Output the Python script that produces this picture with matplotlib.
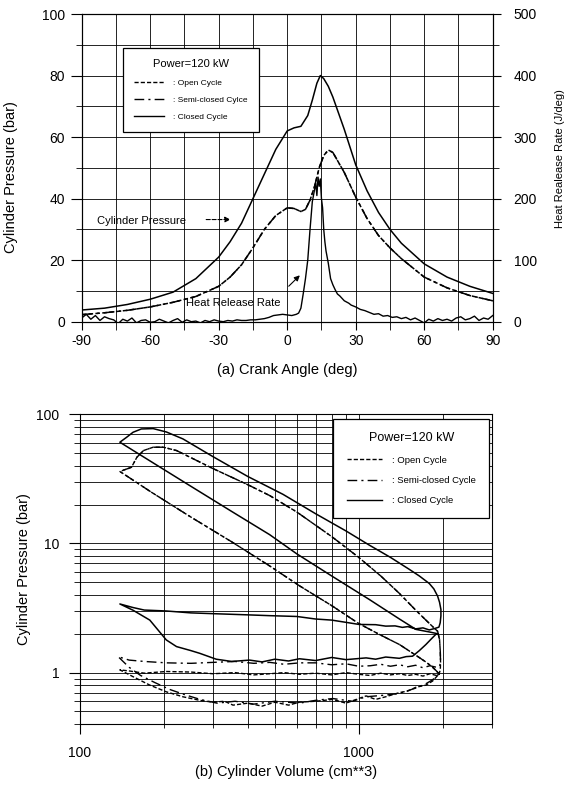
import numpy as np
import matplotlib
matplotlib.use("Agg")
import matplotlib.pyplot as plt
from matplotlib.ticker import MultipleLocator, NullFormatter
from matplotlib.lines import Line2D

plt.rcParams['font.family'] = ['Liberation Sans', 'DejaVu Sans']
plt.rcParams['axes.unicode_minus'] = False

# ---- (a) pressure / heat release vs crank angle ----
theta_closed = [-90, -80, -70, -60, -50, -40, -30, -25, -20, -15, -10, -5, 0, 3, 6, 9, 11, 13, 14.5,
                16, 18, 20, 25, 30, 35, 40, 45, 50, 60, 70, 80, 90]
p_closed = [3.8, 4.4, 5.6, 7.3, 9.6, 14, 21, 26, 32, 40, 48, 56, 62, 63, 63.5, 67, 72, 77.5, 80,
            79, 76.5, 73, 62.5, 51, 42.5, 35.5, 30, 25.5, 18.8, 14.5, 11.5, 9.2]

theta_open_semi = [-90, -80, -70, -60, -50, -40, -30, -25, -20, -15, -10, -5, 0, 3, 6, 8, 10, 12, 14,
                   16, 18, 20, 25, 30, 35, 40, 45, 50, 60, 70, 80, 90]
p_open_semi = [2.3, 2.9, 3.7, 4.8, 6.3, 8.2, 11.5, 14.5, 18.5, 24, 30, 34.5, 37, 36.8, 35.8, 36.5, 39.5, 44, 50,
               54, 55.8, 55, 48.5, 40.5, 33.5, 28, 24, 20.5, 14.5, 11, 8.5, 6.8]

theta_hrr = [-90, -88, -86, -84, -82, -80, -78, -76, -74, -72, -70, -68, -66, -64, -62, -60, -58, -56,
             -54, -52, -50, -48, -46, -44, -42, -40, -38, -36, -34, -32, -30, -28, -26, -24, -22, -20,
             -18, -16, -14, -12, -10, -8, -6, -4, -2, 0, 2, 4, 5, 6, 7, 8, 9, 10, 11, 12, 12.5, 13,
             13.5, 14, 14.5, 15, 15.5, 16, 16.5, 17, 18, 19, 20, 21, 22, 23, 24, 25, 26, 27, 28, 30,
             32, 34, 36, 38, 40, 42, 44, 46, 48, 50, 52, 54, 56, 58, 60, 62, 64, 66, 68, 70, 72, 74,
             76, 78, 80, 82, 84, 86, 88, 90]
hrr = [6, 12, 4, 10, 2, 8, 5, 3, -3, 4, 1, 6, -2, 2, 3, -1, 0, 4,
       1, -2, 2, 5, -1, 3, 0, 1, -2, 2, 0, 3, 1, 0, 2, 1, 3, 2,
       2, 3, 3, 4, 5, 7, 10, 11, 12, 11, 10, 12, 14, 22, 45, 70, 100, 150, 195, 215, 225, 205,
       235, 220, 232, 200, 185, 150, 130, 115, 95, 70, 60, 52, 45, 42, 38, 34, 32, 30, 27, 24,
       20, 18, 15, 12, 13, 9, 10, 7, 8, 5, 7, 3, 6, 2, -2, 4, 1, 5, 2, 4, 1, 6,
       8, 3, 5, 9, 2, 6, 4, 10]

# ---- (b) log P - log V diagram ----
v_closed = [1919, 1800, 1605, 1400, 1092, 800, 600, 479, 350, 250, 180, 139,
            147, 155, 166, 183, 204, 234, 300, 400, 535, 700, 900, 1092, 1300, 1519, 1650, 1791, 1860,
            1919, 1950, 1972, 1972, 1960, 1940,
            1880, 1791, 1700, 1600, 1500, 1434, 1350, 1250, 1150, 1003, 900, 800, 700, 600, 479, 400,
            300, 250, 204, 170, 155, 139,
            155, 178, 204, 222, 250, 269, 308, 350, 406, 450, 500, 560, 613, 700, 800, 900, 1063, 1150,
            1250, 1399, 1480, 1560, 1650, 1742, 1820, 1892, 1919]
p_closed_pv = [2.0, 2.06, 2.16, 2.6, 3.68, 5.6, 8.3, 11.7, 17.7, 27.7, 43, 60.8,
               66.4, 72.6, 77, 77.5, 73, 64.5, 47, 33, 24, 17, 12.5, 9.7, 7.8, 6.3, 5.6, 4.9, 4.45,
               3.91, 3.5, 3.08, 2.75, 2.43, 2.25,
               2.2, 2.14, 2.22, 2.18, 2.27, 2.24, 2.3, 2.29, 2.35, 2.36, 2.45, 2.55, 2.6, 2.72, 2.76, 2.8,
               2.86, 2.9, 3.0, 3.05, 3.19, 3.4,
               3.04, 2.55, 1.79, 1.59, 1.48, 1.41, 1.27, 1.22, 1.25, 1.21, 1.27, 1.23, 1.28, 1.24, 1.31,
               1.26, 1.3, 1.27, 1.32, 1.29, 1.33, 1.34, 1.48, 1.65, 1.82, 1.98, 2.0]

# compression + combustion + expansion, shared by open and semi-closed cycle
v_hp = [1950, 1892, 1841, 1750, 1605, 1400, 1200, 1000, 800, 613, 479, 350, 250, 180, 139,
        147, 153, 160, 169, 183, 199, 222, 300, 400, 479, 600, 800, 1000, 1200, 1400, 1600, 1742,
        1850, 1919, 1950, 1962, 1966]
p_hp = [0.97, 1.04, 1.1, 1.2, 1.36, 1.65, 1.95, 2.4, 3.3, 4.7, 6.7, 10.3, 16, 25, 36.1,
        37.7, 38.9, 46.5, 52.4, 55.6, 55.6, 52.4, 38, 28.5, 23.5, 17.5, 11.3, 7.8, 5.6, 4.1, 3.05, 2.55,
        2.25, 2.09, 1.8, 1.45, 1.2]

v_open_lp = [1962, 1940, 1900, 1800, 1700, 1600, 1500, 1400, 1300, 1200, 1100, 1000, 900, 800, 700,
             613, 540, 480, 420, 360, 300, 250, 204, 170, 150, 139,
             155, 178, 204, 234, 269, 300, 330, 354, 400, 450, 500, 560, 613, 700, 807, 900, 1000, 1063,
             1150, 1250, 1399, 1500, 1605, 1742, 1841, 1920, 1950]
p_open_lp = [1.05, 0.97, 0.95, 0.98, 0.94, 0.97, 0.95, 0.98, 0.96, 0.99, 0.95, 0.97, 1.0, 0.96, 0.99,
             0.97, 1.0, 0.98, 0.96, 1.0, 0.98, 1.01, 1.02, 0.99, 1.03, 1.05,
             0.93, 0.80, 0.71, 0.65, 0.61, 0.59, 0.6, 0.56, 0.58, 0.55, 0.59, 0.56, 0.59, 0.6, 0.62, 0.58,
             0.63, 0.66, 0.62, 0.65, 0.70, 0.72, 0.77, 0.8, 0.86, 0.95, 0.97]

v_semi_lp = [1966, 1950, 1900, 1800, 1700, 1600, 1500, 1400, 1300, 1200, 1100, 1000, 900, 800, 700,
             613, 540, 480, 420, 360, 300, 250, 204, 170, 150, 137,
             150, 165, 185, 210, 240, 270, 310, 360, 420, 500, 613, 700, 807, 950, 1063, 1250, 1399,
             1605, 1742, 1841, 1920, 1950]
p_semi_lp = [1.2, 1.12, 1.1, 1.13, 1.09, 1.14, 1.11, 1.15, 1.12, 1.16, 1.13, 1.12, 1.17, 1.15, 1.19,
             1.19, 1.16, 1.2, 1.18, 1.22, 1.2, 1.18, 1.19, 1.22, 1.25, 1.33,
             1.1, 0.95, 0.84, 0.74, 0.67, 0.62, 0.58, 0.6, 0.57, 0.6, 0.58, 0.61, 0.63, 0.6, 0.65, 0.67,
             0.69, 0.76, 0.82, 0.88, 0.96, 0.97]

legend_top = [': Open Cycle', ': Semi-closed Cylce', ': Closed Cycle']
legend_bot = [': Open Cycle', ': Semi-closed Cycle', ': Closed Cycle']

OPEN = (0, (3, 1.5))
SEMI = (0, (7, 3, 1.5, 3))
W, H = 565, 791

fig = plt.figure(figsize=(W / 100, H / 100), dpi=100)
ax1 = fig.add_axes([81.7 / W, 1 - 321.7 / H, 411 / W, 307.7 / H])
ax2 = ax1.twinx()
ax3 = fig.add_axes([80 / W, 1 - 724 / H, 411.7 / W, 309.7 / H])

# top panel
ax1.plot(theta_closed, p_closed, color='k', lw=1.1)
ax1.plot(theta_open_semi, p_open_semi, color='k', lw=1.1, ls=OPEN)
ax1.plot(theta_open_semi, p_open_semi, color='k', lw=1.1, ls=SEMI)
ax2.plot(theta_hrr, hrr, color='k', lw=1.0)

ax1.set_xlim(-90, 90)
ax1.set_ylim(0, 100)
ax2.set_ylim(0, 500)
ax1.xaxis.set_major_locator(MultipleLocator(30))
ax1.xaxis.set_minor_locator(MultipleLocator(15))
ax1.yaxis.set_major_locator(MultipleLocator(20))
ax1.yaxis.set_minor_locator(MultipleLocator(10))
ax2.yaxis.set_major_locator(MultipleLocator(100))
ax2.yaxis.set_minor_locator(MultipleLocator(50))
ax1.grid(which='both', color='k', lw=0.6)
ax1.set_axisbelow(True)

ax1.tick_params(axis='y', which='major', length=8, labelsize=10, pad=4)
ax1.tick_params(axis='y', which='minor', length=4)
ax1.tick_params(axis='x', which='major', length=6, labelsize=10, pad=3)
ax1.tick_params(axis='x', which='minor', length=6)
ax2.tick_params(axis='y', which='major', length=6, labelsize=10, pad=9)
ax2.tick_params(axis='y', which='minor', length=4)

ax1.set_xlabel('(a) Crank Angle (deg)', fontsize=10.5)
ax1.xaxis.label.set_va('center')
ax1.xaxis.set_label_coords(0.5, -0.157)
ax1.set_ylabel('Cylinder Pressure (bar)', fontsize=10.5)
ax1.yaxis.label.set_va('center')
ax1.yaxis.set_label_coords(-0.171, 0.47)
ax2.set_ylabel('Heat Realease Rate (J/deg)', fontsize=8)
ax2.yaxis.label.set_va('center')
ax2.yaxis.label.set_rotation(90)
ax2.yaxis.set_label_coords(1.164, 0.53)

arrow = dict(arrowstyle='-|>', color='k', lw=0.8, mutation_scale=8)
ax1.text(-83.4, 32.8, 'Cylinder Pressure', fontsize=8, va='center', ha='left')
ax1.annotate('', xy=(-23.6, 33.2), xytext=(-36.7, 33.2), arrowprops=dict(arrow, ls='--'))
ax1.text(-44.5, 6.0, 'Heat Release Rate', fontsize=8, va='center', ha='left')
ax1.annotate('', xy=(6.4, 15.7), xytext=(-0.2, 10.9), arrowprops=arrow)

handles = [Line2D([], [], color='k', lw=1.0, ls=OPEN),
           Line2D([], [], color='k', lw=1.0, ls=SEMI),
           Line2D([], [], color='k', lw=1.0)]
leg1 = ax1.legend(handles, legend_top, title='Power=120 kW', loc='upper left',
                  bbox_to_anchor=(123.3 / W, 1 - 48.3 / H), bbox_transform=fig.transFigure,
                  fontsize=6, title_fontsize=8, fancybox=False, edgecolor='k', framealpha=1,
                  borderpad=1.3, labelspacing=1.15, handlelength=3.6, handletextpad=1.1,
                  borderaxespad=0)
leg1.get_frame().set_linewidth(0.9)
leg1.set_zorder(10)

# bottom panel
ax3.plot(v_closed, p_closed_pv, color='k', lw=1.1)
ax3.plot(v_hp + v_open_lp, p_hp + p_open_lp, color='k', lw=1.0, ls=OPEN)
ax3.plot(v_hp + v_semi_lp, p_hp + p_semi_lp, color='k', lw=1.0, ls=SEMI)

ax3.set_xscale('log')
ax3.set_yscale('log')
ax3.set_xlim(100, 3000)
ax3.set_ylim(0.4, 100)
ax3.set_xticks([100, 1000], ['100', '1000'])
ax3.set_yticks([1, 10, 100], ['1', '10', '100'])
ax3.xaxis.set_minor_formatter(NullFormatter())
ax3.yaxis.set_minor_formatter(NullFormatter())
ax3.grid(which='both', color='k', lw=0.6)
ax3.set_axisbelow(True)
ax3.tick_params(axis='y', which='major', length=8, labelsize=10, pad=7)
ax3.tick_params(axis='y', which='minor', length=4)
ax3.tick_params(axis='x', which='major', length=7, labelsize=10, pad=9)
ax3.tick_params(axis='x', which='minor', length=3)

ax3.set_xlabel('(b) Cylinder Volume (cm**3)', fontsize=10.5)
ax3.xaxis.label.set_va('center')
ax3.xaxis.set_label_coords(0.5, -0.155)
ax3.set_ylabel('Cylinder Pressure (bar)', fontsize=10.5)
ax3.yaxis.label.set_va('center')
ax3.yaxis.set_label_coords(-0.136, 0.5)

leg2 = ax3.legend(handles, legend_bot, title='Power=120 kW', loc='upper left',
                  bbox_to_anchor=(333.3 / W, 1 - 419 / H), bbox_transform=fig.transFigure,
                  fontsize=6.8, title_fontsize=9, fancybox=False, edgecolor='k', framealpha=1,
                  borderpad=1.4, labelspacing=1.2, handlelength=3.8, handletextpad=1.0,
                  borderaxespad=0)
leg2.get_frame().set_linewidth(0.9)

fig.savefig('out.png', dpi=100)
